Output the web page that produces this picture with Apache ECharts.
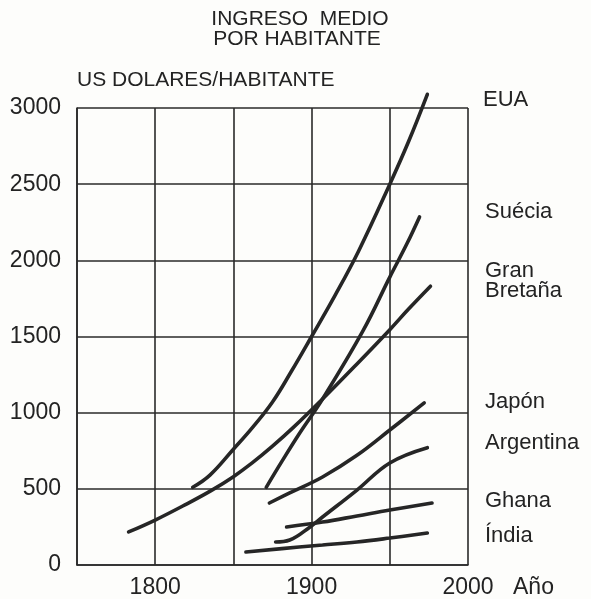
<!DOCTYPE html>
<html>
<head>
<meta charset="utf-8">
<script src="https://cdn.jsdelivr.net/npm/echarts@6/dist/echarts.min.js"></script>
<style>
html,body{margin:0;padding:0;background:#fdfdfb;}
#chart{width:591px;height:599px;}
</style>
</head>
<body>
<div id="chart"></div>
<script>
// ---- data (year, US$ per inhabitant) ----
const eua = [[1824,510],[1835,590],[1850,760],[1862,900],[1875,1070],[1887,1270],[1900,1500],[1915,1770],[1930,2060],[1950,2500],[1962,2780],[1974,3090]];
const granBretana = [[1783,217],[1800,295],[1820,400],[1836,490],[1850,580],[1862,670],[1875,780],[1888,900],[1907,1090],[1929,1320],[1950,1545],[1962,1680],[1976,1830]];
const suecia = [[1871,510],[1881,680],[1892,860],[1907,1090],[1933,1540],[1950,1890],[1961,2110],[1969,2285]];
const japon = [[1873,407],[1886,473],[1907,578],[1929,720],[1950,886],[1972,1064]];
const argentina = [[1877,151],[1886,164],[1899,250],[1907,315],[1929,492],[1950,670],[1974,770]];
const ghana = [[1884,250],[1907,282],[1929,322],[1950,361],[1977,407]];
const india = [[1858,85],[1892,118],[1907,131],[1929,151],[1950,177],[1974,210]];

const xTickLabels = [1800, 1900, 2000];
const titleLines = ['INGRESO  MEDIO', 'POR HABITANTE'];
const yAxisTitle = 'US DOLARES/HABITANTE';
const xAxisTitle = 'Año';
const countryNames = ['EUA', 'Suécia', 'Gran', 'Bretaña', 'Japón', 'Argentina', 'Ghana', 'Índia'];

// ---- chart ----
const FONT = '"Liberation Sans", Arial, Helvetica, sans-serif';
const INK = '#232323';
const chart = echarts.init(document.getElementById('chart'), null, {renderer: 'canvas'});

const lineSeries = [eua, granBretana, suecia, japon, argentina, ghana, india].map(d => ({
  type: 'line',
  data: d,
  smooth: 0.4,
  showSymbol: false,
  clip: false,
  silent: true,
  lineStyle: {color: '#262626', width: 3.6, cap: 'round'}
}));

const labelY = [100, 212, 271, 291, 402, 443, 501, 536];
const labelX = [483, 485, 485, 485, 485, 485, 485, 485];

const graphics = [
  {type: 'text', x: 300, y: 19, style: {text: titleLines[0], font: '21px ' + FONT, fill: INK, textAlign: 'center', textVerticalAlign: 'middle'}},
  {type: 'text', x: 297, y: 39, style: {text: titleLines[1], font: '21px ' + FONT, fill: INK, textAlign: 'center', textVerticalAlign: 'middle'}},
  {type: 'text', x: 77, y: 80, style: {text: yAxisTitle, font: '21px ' + FONT, fill: INK, textAlign: 'left', textVerticalAlign: 'middle'}},
  {type: 'text', x: 513, y: 588, style: {text: xAxisTitle, font: '23px ' + FONT, fill: INK, textAlign: 'left', textVerticalAlign: 'middle'}}
];
countryNames.forEach((n, i) => {
  graphics.push({type: 'text', x: labelX[i], y: labelY[i], style: {text: n, font: '22px ' + FONT, fill: INK, textAlign: 'left', textVerticalAlign: 'middle'}});
});

chart.setOption({
  backgroundColor: '#fdfdfb',
  animation: false,
  grid: {left: 77, right: 123, top: 108, bottom: 34, containLabel: false},
  xAxis: {
    type: 'value', min: 1750, max: 2000, interval: 50,
    axisLine: {show: true, lineStyle: {color: '#2a2a2a', width: 1.6}},
    axisTick: {show: false},
    axisLabel: {
      margin: 11, color: INK, fontSize: 23, fontFamily: FONT,
      formatter: v => (xTickLabels.indexOf(v) >= 0 ? String(v) : '')
    },
    splitLine: {show: true, showMinLine: true, showMaxLine: true, lineStyle: {color: '#2a2a2a', width: 1.6}}
  },
  yAxis: {
    type: 'value', min: 0, max: 3000, interval: 500,
    axisLine: {show: true, lineStyle: {color: '#2a2a2a', width: 1.6}},
    axisTick: {show: false},
    axisLabel: {margin: 16, color: INK, fontSize: 23, fontFamily: FONT, formatter: v => String(v)},
    splitLine: {show: true, showMinLine: true, showMaxLine: true, lineStyle: {color: '#2a2a2a', width: 1.6}}
  },
  graphic: graphics,
  series: lineSeries
});
</script>
</body>
</html>
